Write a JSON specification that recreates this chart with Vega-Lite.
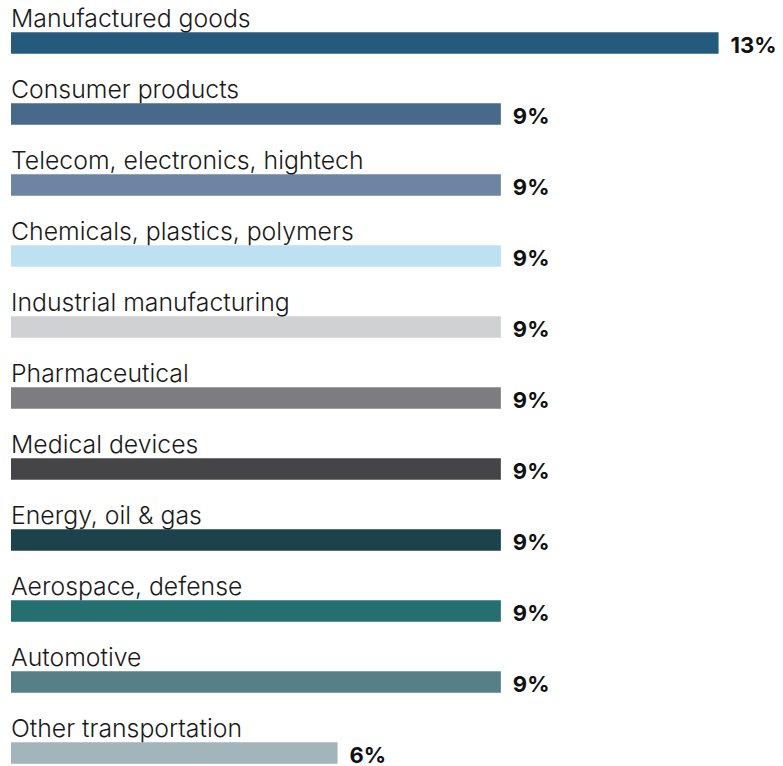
{
  "$schema": "https://vega.github.io/schema/vega-lite/v6.json",
  "width": 762,
  "height": 710,
  "autosize": "none",
  "padding": {"left": 11, "top": 43, "right": 10, "bottom": 13},
  "background": "white",
  "config": {"view": {"stroke": null}},
  "data": {
    "values": [
      {"sector": "Manufactured goods", "share": 13, "color": "#245b7c"},
      {"sector": "Consumer products", "share": 9, "color": "#486a8a"},
      {"sector": "Telecom, electronics, hightech", "share": 9, "color": "#6e84a3"},
      {"sector": "Chemicals, plastics, polymers", "share": 9, "color": "#bee0f3"},
      {"sector": "Industrial manufacturing", "share": 9, "color": "#d0d1d3"},
      {"sector": "Pharmaceutical", "share": 9, "color": "#7d7d80"},
      {"sector": "Medical devices", "share": 9, "color": "#454547"},
      {"sector": "Energy, oil & gas", "share": 9, "color": "#1c424b"},
      {"sector": "Aerospace, defense", "share": 9, "color": "#266f71"},
      {"sector": "Automotive", "share": 9, "color": "#568085"},
      {"sector": "Other transportation", "share": 6, "color": "#a2b5bb"}
    ]
  },
  "encoding": {
    "y": {"field": "sector", "type": "nominal", "sort": null, "scale": {"type": "point", "padding": 0}, "axis": null}
  },
  "layer": [
    {
      "mark": {"type": "bar", "size": 21.5},
      "encoding": {
        "x": {"field": "share", "type": "quantitative", "scale": {"domain": [0, 14], "nice": false}, "axis": null},
        "color": {"field": "color", "type": "nominal", "scale": null, "legend": null}
      }
    },
    {
      "mark": {"type": "text", "align": "left", "baseline": "alphabetic", "dy": -16.3, "font": "Inter", "fontWeight": 300, "fontSize": 24.8, "color": "#1a1a1a"},
      "encoding": {
        "x": {"datum": 0, "type": "quantitative"},
        "text": {"field": "sector"}
      }
    },
    {
      "mark": {"type": "text", "align": "left", "baseline": "alphabetic", "dx": 12, "dy": 9.5, "font": "Inter", "fontWeight": "bold", "fontSize": 22, "color": "#111111", "text": {"expr": "datum.share + '%'"}},
      "encoding": {
        "x": {"field": "share", "type": "quantitative"}
      }
    }
  ]
}
